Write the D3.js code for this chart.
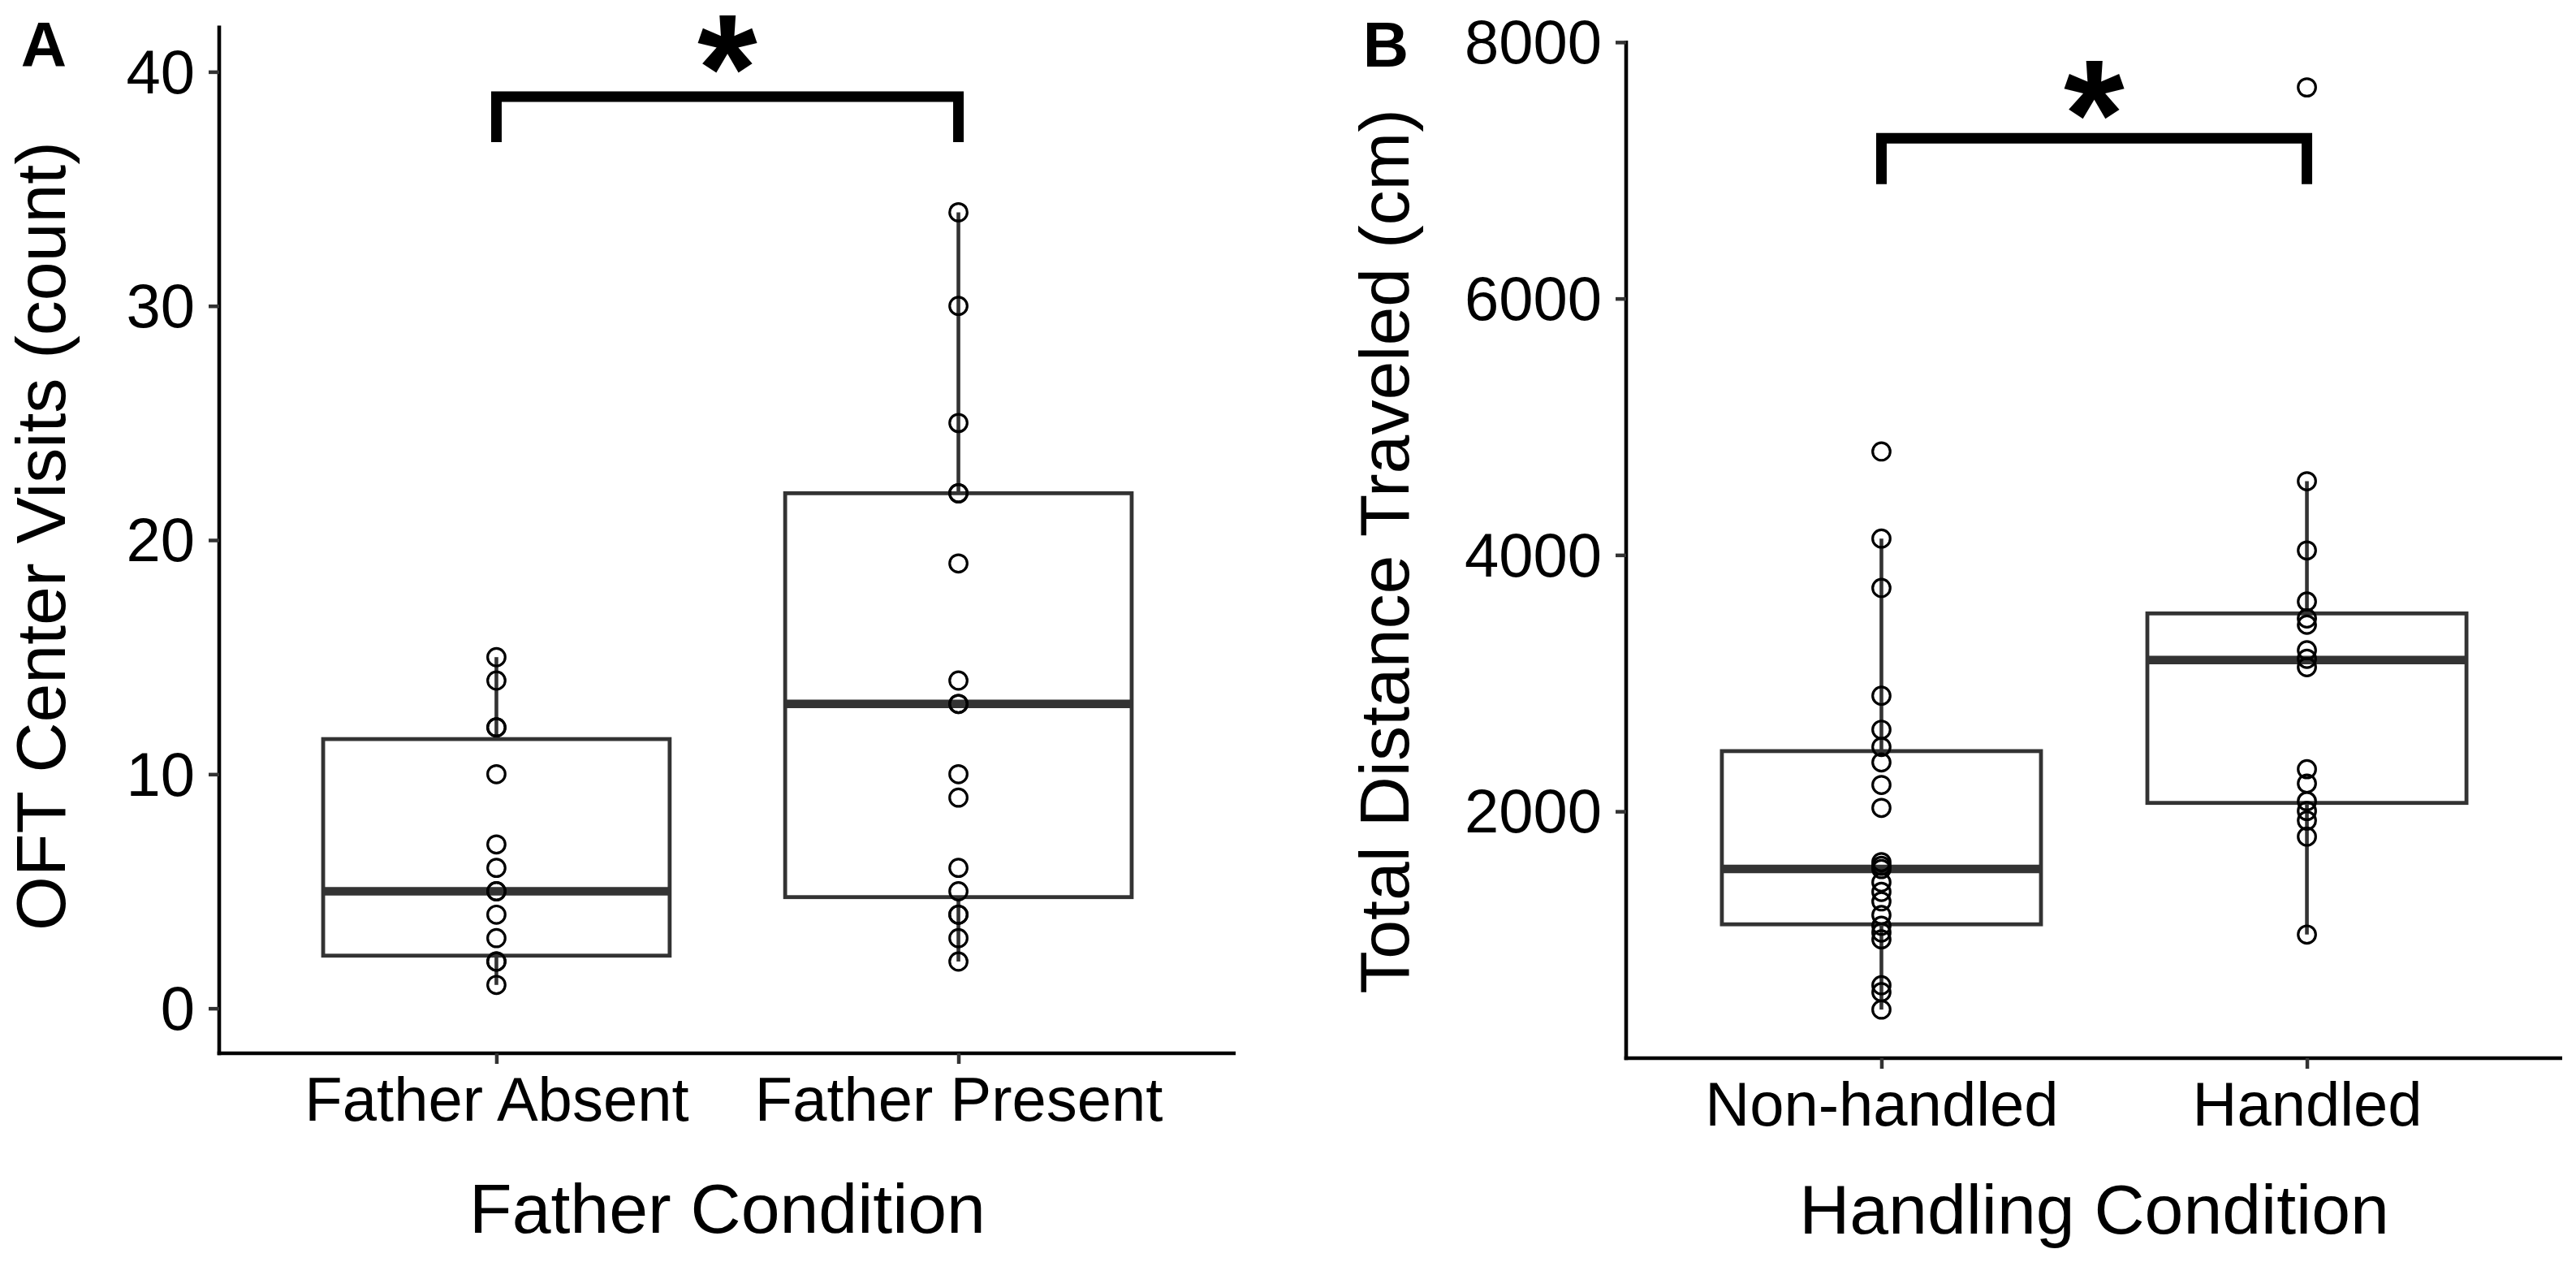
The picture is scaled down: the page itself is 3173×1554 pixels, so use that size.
<!DOCTYPE html>
<html>
<head>
<meta charset="utf-8">
<script src="https://cdn.jsdelivr.net/npm/d3@7/dist/d3.min.js"></script>
<style>
  html, body { margin: 0; padding: 0; background: #ffffff; }
  svg { display: block; }
</style>
</head>
<body>
<svg id="chart" width="3173" height="1554"></svg>
<script>
// ---------------- DATA ----------------
// Panel A
const groupsA = ["Father Absent", "Father Present"];
const pointsFatherAbsent  = [15, 14, 12, 12, 10, 7, 6, 5, 5, 4, 3, 2, 2, 1];
const pointsFatherPresent = [34, 30, 25, 22, 22, 19, 14, 13, 13, 10, 9, 6, 5, 4, 4, 3, 2];
const q1A       = [2.25, 4.75];
const medianA   = [5, 13];
const q3A       = [11.5, 22];
const whiskLoA  = [1, 2];
const whiskHiA  = [15, 34];
const ticksA    = [0, 10, 20, 30, 40];
const bracketA  = [38.94, 37.0];   // [bar level, leg end]

// Panel B
const groupsB = ["Non-handled", "Handled"];
const pointsNonHandled = [4807, 4128, 3743, 2902, 2637, 2502, 2382, 2206, 2027,
                          1604, 1575, 1550, 1446, 1372, 1298, 1192, 1108, 1055, 1002,
                          644, 590, 454];
const pointsHandled    = [7647, 4575, 4035, 3637, 3505, 3456, 3257, 3190, 3125,
                          2329, 2217, 2079, 2003, 1928, 1803, 1039];
const q1B       = [1119, 2066];
const medianB   = [1551, 3181];
const q3B       = [2470, 3544];
const whiskLoB  = [454, 1039];
const whiskHiB  = [4128, 4575];
const ticksB    = [2000, 4000, 6000, 8000];
const bracketB  = [7250, 6893];

// ---------------- DRAWING ----------------
const svg = d3.select("#chart");
svg.append("rect").attr("width", 3173).attr("height", 1554).attr("fill", "#ffffff");
const FONT = "'Liberation Sans', Arial, Helvetica, sans-serif";

function inkMetrics(txt, weight) {
  const ctx = document.createElement("canvas").getContext("2d");
  ctx.font = weight + " 100px " + FONT;
  return ctx.measureText(txt);
}

function panel(cfg) {
  const x = d3.scalePoint().domain(cfg.groups).range(cfg.xRange).padding(0.6);
  const y = d3.scaleLinear().domain(cfg.yDomain).range(cfg.yRange);
  const halfW = x.step() * 0.375;
  const g = svg.append("g");

  const boxes = cfg.groups.map((name, i) => ({
    name, q1: cfg.q1[i], med: cfg.med[i], q3: cfg.q3[i], lo: cfg.lo[i], hi: cfg.hi[i], pts: cfg.points[i]
  }));

  const bg = g.selectAll("g.box").data(boxes).enter().append("g").attr("class", "box");
  bg.append("line")
    .attr("x1", d => x(d.name)).attr("x2", d => x(d.name))
    .attr("y1", d => y(d.q3)).attr("y2", d => y(d.hi))
    .attr("stroke", "#333333").attr("stroke-width", 4.6);
  bg.append("line")
    .attr("x1", d => x(d.name)).attr("x2", d => x(d.name))
    .attr("y1", d => y(d.q1)).attr("y2", d => y(d.lo))
    .attr("stroke", "#333333").attr("stroke-width", 4.6);
  bg.append("rect")
    .attr("x", d => x(d.name) - halfW).attr("width", halfW * 2)
    .attr("y", d => y(d.q3)).attr("height", d => y(d.q1) - y(d.q3))
    .attr("fill", "#ffffff").attr("stroke", "#333333").attr("stroke-width", 4.8);
  bg.append("line")
    .attr("x1", d => x(d.name) - halfW).attr("x2", d => x(d.name) + halfW)
    .attr("y1", d => y(d.med)).attr("y2", d => y(d.med))
    .attr("stroke", "#333333").attr("stroke-width", 10.5);
  bg.selectAll("circle").data(d => d.pts.map(v => ({ name: d.name, v }))).enter()
    .append("circle")
    .attr("cx", p => x(p.name)).attr("cy", p => y(p.v)).attr("r", 10.8)
    .attr("fill", "none").attr("stroke", "#000000").attr("stroke-width", 3.2);

  // axes
  const yAxis = d3.axisLeft(y).tickValues(cfg.ticks).tickFormat(d3.format("d"))
    .tickSize(13).tickSizeOuter(0).tickPadding(17);
  const ya = g.append("g").attr("transform", `translate(${cfg.xRange[0]},0)`).call(yAxis);
  const xAxis = d3.axisBottom(x).tickSize(13).tickSizeOuter(0).tickPadding(16.5);
  const xa = g.append("g").attr("transform", `translate(0,${cfg.yRange[0]})`).call(xAxis);
  [ya, xa].forEach(a => {
    a.select(".domain").attr("stroke", "#000000").attr("stroke-width", 4.6);
    a.selectAll(".tick line").attr("stroke", "#333333").attr("stroke-width", 4.5);
    a.selectAll(".tick text").attr("fill", "#000000").attr("font-size", 76).attr("font-family", FONT);
  });
  ya.selectAll(".tick text").attr("dy", "0.34em");
  ya.select(".domain").attr("d", `M0,${cfg.yRange[1]}V${cfg.yRange[0] + 2.3}`);
  xa.select(".domain").attr("d", `M${cfg.xRange[0] - 2.3},0H${cfg.xRange[1]}`);

  // axis titles
  g.append("text").attr("x", (cfg.xRange[0] + cfg.xRange[1]) / 2).attr("y", cfg.xTitleY)
    .attr("text-anchor", "middle").attr("font-size", 86).attr("font-family", FONT)
    .attr("fill", "#000000").text(cfg.xTitle);
  g.append("text")
    .attr("transform", `translate(${cfg.yTitleX},${cfg.yTitleCY}) rotate(-90)`)
    .attr("text-anchor", "middle").attr("font-size", 86).attr("font-family", FONT)
    .attr("fill", "#000000").text(cfg.yTitle);

  // panel letter
  g.append("text").attr("x", cfg.letterX).attr("y", 82).attr("text-anchor", "middle")
    .attr("font-size", 78).attr("font-weight", "bold").attr("font-family", FONT)
    .attr("fill", "#000000").text(cfg.letter);

  // significance bracket
  const x1 = x(cfg.groups[0]), x2 = x(cfg.groups[1]);
  const yb = y(cfg.bracket[0]), yl = y(cfg.bracket[1]);
  g.append("path")
    .attr("d", `M${x1},${yl}V${yb}H${x2}V${yl}`)
    .attr("fill", "none").attr("stroke", "#000000").attr("stroke-width", 13)
    .attr("stroke-linejoin", "miter").attr("stroke-linecap", "butt");

  // star sized by its ink height
  const m = inkMetrics("*", "bold");
  const inkH = m.actualBoundingBoxAscent + m.actualBoundingBoxDescent;
  const fs = 100 * cfg.starH / inkH;
  const k = fs / 100;
  const baseY = cfg.starTop + m.actualBoundingBoxAscent * k;
  const cx = (x1 + x2) / 2;
  const x0 = cx - (m.actualBoundingBoxRight - m.actualBoundingBoxLeft) * k / 2;
  g.append("text").attr("x", x0).attr("y", baseY).attr("text-anchor", "start")
    .attr("font-size", fs).attr("font-weight", "bold").attr("font-family", FONT)
    .attr("fill", "#000000").text("*");
}

panel({
  groups: groupsA, points: [pointsFatherAbsent, pointsFatherPresent],
  q1: q1A, med: medianA, q3: q3A, lo: whiskLoA, hi: whiskHiA, ticks: ticksA, bracket: bracketA,
  xRange: [270, 1522], yDomain: [-1.92, 41.97], yRange: [1297, 31.6],
  xTitle: "Father Condition", xTitleY: 1518,
  yTitle: "OFT Center Visits (count)", yTitleX: 80, yTitleCY: 660,
  letter: "A", letterX: 54, starTop: 18, starH: 72
});

panel({
  groups: groupsB, points: [pointsNonHandled, pointsHandled],
  q1: q1B, med: medianB, q3: q3B, lo: whiskLoB, hi: whiskHiB, ticks: ticksB, bracket: bracketB,
  xRange: [2003, 3156], yDomain: [75, 8012], yRange: [1303, 50],
  xTitle: "Handling Condition", xTitleY: 1519,
  yTitle: "Total Distance Traveled (cm)", yTitleX: 1735, yTitleCY: 679,
  letter: "B", letterX: 1707, starTop: 74, starH: 73
});
</script>
</body>
</html>
